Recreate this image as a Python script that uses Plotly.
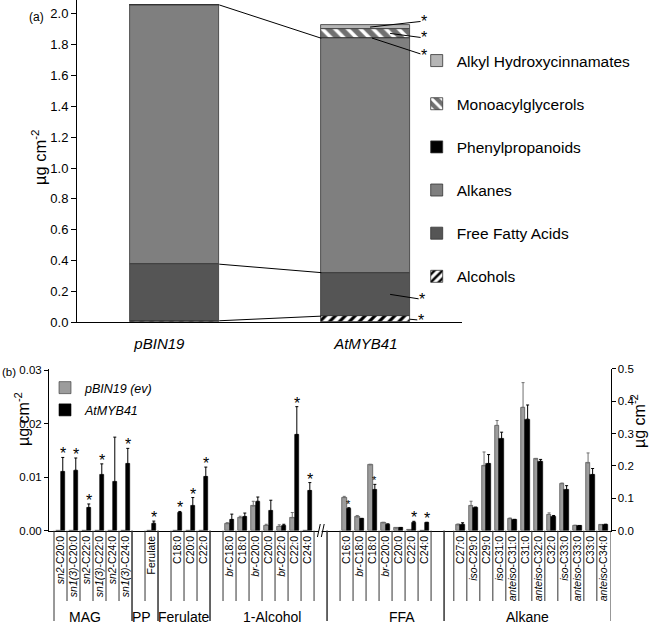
import numpy as np
import plotly.graph_objects as go

FONT = "Liberation Sans, Arial, sans-serif"
W, H = 659, 625

# ---------------- Panel (a) data ----------------
genotypes = ["pBIN19", "AtMYB41"]
classes = ["Alcohols", "Free Fatty Acids", "Alkanes", "Phenylpropanoids",
           "Monoacylglycerols", "Alkyl Hydroxycinnamates"]
pbin19_totals = [0.010, 0.367, 1.681, 0.0, 0.0, 0.0]
atmyb41_totals = [0.040, 0.282, 1.520, 0.0013, 0.060, 0.022]
atmyb41_sig = [True, True, False, True, True, True]

# ---------------- Panel (b) data ----------------
mag_labels = ["<i>sn2</i>-C20:0", "<i>sn1(3)</i>-C20:0", "<i>sn2</i>-C22:0",
              "<i>sn1(3)</i>-C22:0", "<i>sn2</i>-C24:0", "<i>sn1(3)</i>-C24:0"]
mag_pbin = [0, 0, 0, 0, 0, 0]
mag_pbin_err = [0, 0, 0, 0, 0, 0]
mag_myb = [0.0110, 0.0113, 0.0043, 0.0104, 0.0091, 0.0125]
mag_myb_err = [0.0027, 0.0023, 0.0007, 0.0021, 0.0084, 0.0029]
mag_sig = [2, 2, 2, 2, 0, 2]

pp_labels = ["Ferulate"]
pp_pbin = [0]
pp_pbin_err = [0]
pp_myb = [0.0014]
pp_myb_err = [0.0004]
pp_sig = [2]

fer_labels = ["C18:0", "C20:0", "C22:0"]
fer_pbin = [0, 0, 0]
fer_pbin_err = [0, 0, 0]
fer_myb = [0.0034, 0.0046, 0.0101]
fer_myb_err = [0.0002, 0.0016, 0.0018]
fer_sig = [2, 2, 2]

alc_labels = ["<i>br</i>-C18:0", "C18:0", "<i>br</i>-C20:0", "C20:0",
              "<i>br</i>-C22:0", "C22:0", "C24:0"]
alc_pbin = [0.0013, 0.0024, 0.0046, 0.0010, 0.0008, 0.0024, 0.0]
alc_pbin_err = [0.0002, 0.0003, 0.0009, 0.0002, 0.0003, 0.0010, 0.0]
alc_myb = [0.0021, 0.0026, 0.0055, 0.0037, 0.0009, 0.0180, 0.0075]
alc_myb_err = [0.0010, 0.0007, 0.0008, 0.0020, 0.0003, 0.0052, 0.0015]
alc_sig = [0, 0, 0, 0, 0, 2, 2]

ffa_labels = ["C16:0", "<i>br</i>-C18:0", "C18:0", "<i>br</i>-C20:0",
              "C20:0", "C22:0", "C24:0"]
ffa_pbin = [0.102, 0.042, 0.203, 0.024, 0.008, 0.002, 0.0]
ffa_pbin_err = [0.004, 0.005, 0.002, 0.002, 0.001, 0.0005, 0.0]
ffa_myb = [0.068, 0.036, 0.126, 0.020, 0.009, 0.026, 0.024]
ffa_myb_err = [0.003, 0.002, 0.017, 0.001, 0.001, 0.003, 0.002]
ffa_sig = [1, 0, 1, 0, 0, 2, 2]

alk_labels = ["C27:0", "<i>iso</i>-C29:0", "C29:0", "<i>iso</i>-C31:0",
              "<i>anteiso</i>-C31:0", "C31:0", "<i>anteiso</i>-C32:0", "C32:0",
              "<i>iso</i>-C33:0", "<i>anteiso</i>-C33:0", "C33:0", "<i>anteiso</i>-C34:0"]
alk_pbin = [0.0176, 0.077, 0.200, 0.325, 0.037, 0.381, 0.221, 0.050, 0.145, 0.016, 0.209, 0.018]
alk_pbin_err = [0.003, 0.014, 0.043, 0.015, 0.002, 0.076, 0.002, 0.005, 0.002, 0.001, 0.031, 0.001]
alk_myb = [0.020, 0.071, 0.207, 0.283, 0.034, 0.344, 0.214, 0.044, 0.126, 0.015, 0.173, 0.019]
alk_myb_err = [0.0045, 0.002, 0.028, 0.021, 0.001, 0.044, 0.006, 0.003, 0.013, 0.001, 0.019, 0.001]
alk_sig = [0] * 12

groups = [
    dict(name="MAG", labels=mag_labels, pb=mag_pbin, pbe=mag_pbin_err, at=mag_myb, ate=mag_myb_err, sig=mag_sig,
         start=0, left=-0.5, right=5.5, yax="y2", label_x=1.9),
    dict(name="PP", labels=pp_labels, pb=pp_pbin, pbe=pp_pbin_err, at=pp_myb, ate=pp_myb_err, sig=pp_sig,
         start=7, left=5.5, right=7.5, yax="y2", label_x=6.25),
    dict(name="Ferulate", labels=fer_labels, pb=fer_pbin, pbe=fer_pbin_err, at=fer_myb, ate=fer_myb_err, sig=fer_sig,
         start=9, left=7.5, right=11.5, yax="y2", label_x=9.5),
    dict(name="1-Alcohol", labels=alc_labels, pb=alc_pbin, pbe=alc_pbin_err, at=alc_myb, ate=alc_myb_err, sig=alc_sig,
         start=13, left=11.5, right=20.5, yax="y2", label_x=16.3),
    dict(name="FFA", labels=ffa_labels, pb=ffa_pbin, pbe=ffa_pbin_err, at=ffa_myb, ate=ffa_myb_err, sig=ffa_sig,
         start=22, left=20.5, right=29.5, yax="y3", label_x=26.3),
    dict(name="Alkane", labels=alk_labels, pb=alk_pbin, pbe=alk_pbin_err, at=alk_myb, ate=alk_myb_err, sig=alk_sig,
         start=30.75, left=29.5, right=42.3, yax="y3", label_x=35.9),
]

fig = go.Figure()

# ---------------- Panel (a) ----------------
bar_w = 0.466
xpos_a = np.arange(len(genotypes), dtype=float)
pb_arr = np.array(pbin19_totals)
at_arr = np.array(atmyb41_totals)
pb_base = np.concatenate([[0], np.cumsum(pb_arr)[:-1]])
at_base = np.concatenate([[0], np.cumsum(at_arr)[:-1]])

styles = {
    "Alcohols": dict(color="white", pattern=dict(shape="/", fgcolor="black", bgcolor="white", size=7, solidity=0.45)),
    "Free Fatty Acids": dict(color="#555555"),
    "Alkanes": dict(color="#7f7f7f"),
    "Phenylpropanoids": dict(color="#000000"),
    "Monoacylglycerols": dict(color="#707070", pattern=dict(shape="\\", fgcolor="white", bgcolor="#707070", size=9, solidity=0.4)),
    "Alkyl Hydroxycinnamates": dict(color="#b5b5b5"),
}
for i, c in enumerate(classes):
    st = styles[c]
    mk = dict(color=st["color"], line=dict(color="#333333", width=0.8))
    if "pattern" in st:
        mk["pattern"] = st["pattern"]
    fig.add_trace(go.Bar(
        x=xpos_a, y=[pb_arr[i], at_arr[i]], base=[pb_base[i], at_base[i]], width=bar_w,
        name=c, marker=mk, xaxis="x", yaxis="y", legend="legend", legendgroup=c,
        legendrank=100 - i, hoverinfo="skip"))

# connecting lines between the two bars (tops of alcohols, FFA, alkanes)
pb_cum = np.cumsum(pb_arr)
at_cum = np.cumsum(at_arr)
for k in range(3):
    fig.add_trace(go.Scatter(
        x=[xpos_a[0] + bar_w / 2, xpos_a[1] - bar_w / 2], y=[pb_cum[k], at_cum[k]],
        mode="lines", line=dict(color="black", width=1), showlegend=False,
        xaxis="x", yaxis="y", hoverinfo="skip"))

# asterisk leaders for AtMYB41 (layout: x offset in bar, y position within band, pixel offsets)
leaders = {
    "Alcohols": (0.23, 0.5, 11, 1),
    "Free Fatty Acids": (0.127, 0.5, 32, 5),
    "Phenylpropanoids": (0.032, 1.0, 52, 17),
    "Monoacylglycerols": (0.127, 0.5, 34, 4.5),
    "Alkyl Hydroxycinnamates": (0.022, 0.5, 54, -6),
}
annotations = []
for i, c in enumerate(classes):
    if atmyb41_sig[i]:
        dx, frac, ax, ay = leaders[c]
        annotations.append(dict(
            x=xpos_a[1] + dx, y=at_base[i] + frac * at_arr[i], xref="x", yref="y",
            text="*", showarrow=True, arrowhead=0, arrowwidth=1, arrowcolor="black",
            ax=ax, ay=ay, font=dict(size=16, color="#000000", family=FONT), borderpad=0))

# ---------------- Panel (b) ----------------
off = 0.175
bw = 0.35
for yax in ["y2", "y3"]:
    xs_p, ys_p, es_p, xs_a, ys_a, es_a = [], [], [], [], [], []
    for g in groups:
        if g["yax"] != yax:
            continue
        for j in range(len(g["labels"])):
            p = g["start"] + j
            xs_p.append(p - off); ys_p.append(g["pb"][j]); es_p.append(g["pbe"][j])
            xs_a.append(p + off); ys_a.append(g["at"][j]); es_a.append(g["ate"][j])
    first = yax == "y2"
    fig.add_trace(go.Bar(
        x=xs_p, y=ys_p, width=bw, name="<i>pBIN19 (ev)</i>",
        marker=dict(color="#9c9c9c", line=dict(color="#333333", width=0.6)),
        error_y=dict(type="data", array=es_p, arrayminus=[0] * len(es_p), symmetric=False,
                     color="#707070", thickness=1, width=1.5),
        xaxis="x2", yaxis=yax, legend="legend2", legendgroup="pb", showlegend=first,
        legendrank=1, hoverinfo="skip"))
    fig.add_trace(go.Bar(
        x=xs_a, y=ys_a, width=bw, name="<i>AtMYB41</i>",
        marker=dict(color="#000000", line=dict(color="#000000", width=0.6)),
        error_y=dict(type="data", array=es_a, arrayminus=[0] * len(es_a), symmetric=False,
                     color="#000000", thickness=1, width=1.5),
        xaxis="x2", yaxis=yax, legend="legend2", legendgroup="at", showlegend=first,
        legendrank=2, hoverinfo="skip"))

# ticks, separators, group labels, asterisks
tickvals, ticktext = [], []
shapes = []
Y_AX = (H - 530.7) / H
Y_SHORT = (H - 601) / H
Y_LONG = (H - 621) / H
for g in groups:
    pos = [g["start"] + j for j in range(len(g["labels"]))]
    tickvals += pos
    ticktext += g["labels"]
    bounds = set()
    for p in pos:
        bounds.add(round(p - 0.5, 3)); bounds.add(round(p + 0.5, 3))
    b = g["start"] - 0.5
    while b - 1 > g["left"] + 0.3:
        b -= 1
        bounds.add(round(b, 3))
    for b in sorted(bounds):
        if b <= g["left"] + 0.3 or b >= g["right"] - 0.3:
            continue
        shapes.append(dict(type="line", xref="x2", yref="paper", x0=b, x1=b, y0=Y_AX, y1=Y_SHORT,
                           line=dict(color="#333333", width=1)))
    for b in (g["left"], g["right"]):
        shapes.append(dict(type="line", xref="x2", yref="paper", x0=b, x1=b, y0=Y_AX, y1=Y_LONG,
                           line=dict(color="#333333", width=1)))
    annotations.append(dict(x=g["label_x"], y=(H - 617) / H, xref="x2", yref="paper", text=g["name"],
                            showarrow=False, font=dict(size=14, color="black", family=FONT),
                            xanchor="center", yanchor="middle"))
    for j, s in enumerate(g["sig"]):
        if s:
            annotations.append(dict(
                x=pos[j] + off, y=g["at"][j] + g["ate"][j], xref="x2", yref=g["yax"],
                text="*", showarrow=False, xanchor="center", yanchor="bottom",
                yshift=-7 if s == 2 else -4,
                font=dict(size=16 if s == 2 else 11, color="#000000", family=FONT)))

# axis break "//"
brk = 19.96
shapes.append(dict(type="rect", xref="x2", yref="paper", x0=brk - 0.1, x1=brk + 0.12,
                   y0=Y_AX - 0.004, y1=Y_AX + 0.004, fillcolor="white", line=dict(width=0)))
for d in (-0.2, 0.1):
    shapes.append(dict(type="line", xref="x2", yref="paper", x0=brk + d, x1=brk + d + 0.22,
                       y0=(H - 537) / H, y1=(H - 524) / H, line=dict(color="black", width=1)))

# axis titles and panel letters
ytitle = "µg cm<sup>-2</sup>"
annotations += [
    dict(x=27 / W, y=1 - 127 / H, xref="paper", yref="paper", text=ytitle, textangle=-90,
         showarrow=False, font=dict(size=16.5, color="black", family=FONT)),
    dict(x=10 / W, y=1 - 448 / H, xref="paper", yref="paper", text=ytitle, textangle=-90,
         showarrow=False, font=dict(size=16, color="black", family=FONT)),
    dict(x=650 / W, y=1 - 450 / H, xref="paper", yref="paper", text=ytitle, textangle=-90,
         showarrow=False, font=dict(size=16, color="black", family=FONT)),
    dict(x=27 / W, y=1 - 8 / H, xref="paper", yref="paper", text="(a)", showarrow=False,
         font=dict(size=12, color="black", family=FONT)),
    dict(x=1 / W, y=1 - 372 / H, xref="paper", yref="paper", text="(b)", showarrow=False,
         xanchor="left", borderpad=0, font=dict(size=11.5, color="black", family=FONT)),
]

axis_common = dict(showgrid=False, zeroline=False, showline=True, linecolor="black", linewidth=1,
                   automargin=False, tickcolor="black")

fig.update_layout(
    template="none",
    width=W, height=H, margin=dict(l=0, r=0, t=0, b=0, pad=0), autosize=False,
    paper_bgcolor="white", plot_bgcolor="white",
    font=dict(family=FONT, color="black"),
    barmode="overlay", bargap=0,
    xaxis=dict(domain=[77 / W, 462 / W], anchor="y", range=[-0.511, 1.503],
               tickvals=[-0.08, 1.0], ticktext=["<i>%s</i>" % g for g in genotypes],
               ticks="outside", ticklen=8, tickcolor="rgba(0,0,0,0)", automargin=False,
               showgrid=False, zeroline=False, showline=True, linecolor="black", linewidth=1,
               tickfont=dict(size=15, color="black", family=FONT)),
    yaxis=dict(domain=[(H - 322.3) / H, 1.0], anchor="x", range=[0, 2.09], dtick=0.2,
               tickformat=".1f", ticks="outside", ticklen=5,
               tickfont=dict(size=13, color="black", family=FONT), **axis_common),
    xaxis2=dict(domain=[49 / W, 610.5 / W], anchor="y2", range=[-0.885, 42.3],
                tickvals=tickvals, ticktext=ticktext, tickangle=-90, ticks="", automargin=False,
                showgrid=False, zeroline=False, showline=True, linecolor="black", linewidth=1,
                tickfont=dict(size=10.5, color="black", family=FONT)),
    yaxis2=dict(domain=[Y_AX, (H - 368.7) / H], anchor="x2", range=[0, 0.0303], dtick=0.01,
                tickformat=".2f", ticks="outside", ticklen=4,
                tickfont=dict(size=11.5, color="black", family=FONT), **axis_common),
    yaxis3=dict(overlaying="y2", side="right", anchor="x2", range=[0, 0.5], dtick=0.1,
                tickformat=".1f", ticks="outside", ticklen=4,
                tickfont=dict(size=11.5, color="black", family=FONT), **axis_common),
    legend=dict(x=416.7 / W, xanchor="left", y=1 - 44 / H, yanchor="top",
                traceorder="grouped", tracegroupgap=20,
                font=dict(size=15.5, color="black", family=FONT), bgcolor="rgba(0,0,0,0)"),
    legend2=dict(x=45 / W, xanchor="left", y=1 - 373 / H, yanchor="top",
                 traceorder="grouped", tracegroupgap=3,
                 font=dict(size=12.5, color="black", family=FONT), bgcolor="rgba(0,0,0,0)"),
    shapes=shapes, annotations=annotations, showlegend=True,
)

fig.write_html("out.html", config={"displayModeBar": False},
               post_script="document.body.style.margin='0px';document.body.style.padding='0px';")
